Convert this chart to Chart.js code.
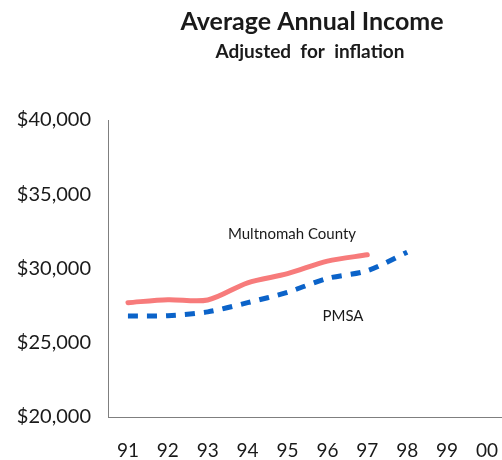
<!DOCTYPE html>
<html>
<head>
<meta charset="utf-8">
<script src="https://cdn.jsdelivr.net/npm/chart.js@4.4.1/dist/chart.umd.min.js"></script>
<style>
  html, body { margin: 0; padding: 0; background: #fff; overflow: hidden; }
  #wrap { width: 520px; height: 460px; }
</style>
</head>
<body>
<div id="wrap"><canvas id="incomeChart" width="520" height="460"></canvas></div>
<script>
const years = ['91', '92', '93', '94', '95', '96', '97', '98', '99', '00'];
const multnomah = [27700, 27900, 27880, 29040, 29650, 30500, 30920, null, null, null];
const pmsa = [26800, 26820, 27080, 27700, 28400, 29330, 29850, 31100, null, null];
const yTicks = [20000, 25000, 30000, 35000, 40000];

const FONT = 'Lato, "Open Sans", sans-serif';
const TEXT = '#1a1a1a';

// titles and series labels drawn over the chart
const textPlugin = {
  id: 'textPlugin',
  afterDraw(chart) {
    const { ctx } = chart;
    ctx.save();
    ctx.fillStyle = TEXT;
    ctx.textAlign = 'center';
    ctx.textBaseline = 'middle';
    ctx.font = 'bold 25px ' + FONT;
    ctx.fillText('Average Annual Income', 312, 22);
    ctx.font = 'bold 19px ' + FONT;
    ctx.fillText('Adjusted  for  inflation', 310, 52);
    ctx.font = '15px ' + FONT;
    ctx.fillText('Multnomah County', 292, 234);
    ctx.fillText('PMSA', 343, 316);
    ctx.restore();
  }
};

new Chart(document.getElementById('incomeChart'), {
  type: 'line',
  data: {
    labels: years,
    datasets: [
      {
        label: 'Multnomah County',
        data: multnomah,
        borderColor: '#f77b7b',
        borderWidth: 5,
        borderCapStyle: 'round',
        tension: 0.3,
        pointRadius: 0,
        fill: false
      },
      {
        label: 'PMSA',
        data: pmsa,
        borderColor: '#0b63c9',
        borderWidth: 5,
        borderDash: [10, 9],
        borderCapStyle: 'butt',
        tension: 0.3,
        pointRadius: 0,
        fill: false
      }
    ]
  },
  options: {
    responsive: false,
    animation: false,
    layout: { padding: { top: 120, right: 0, bottom: 0, left: 0 } },
    plugins: {
      legend: { display: false },
      title: { display: false },
      tooltip: { enabled: false }
    },
    scales: {
      x: {
        offset: true,
        afterFit: s => { s.height = 43; },
        grid: { display: false, drawTicks: false },
        border: { display: true, color: '#7f7f7f', width: 1 },
        ticks: { color: TEXT, font: { family: FONT, size: 19 }, padding: 22, maxRotation: 0 }
      },
      y: {
        min: 20000,
        max: 40000,
        afterFit: s => { s.width = 108; },
        afterBuildTicks: s => { s.ticks = yTicks.map(v => ({ value: v })); },
        grid: { display: false, drawTicks: false },
        border: { display: true, color: '#7f7f7f', width: 1 },
        ticks: {
          color: TEXT,
          font: { family: FONT, size: 20 },
          padding: 17,
          callback: v => '$' + v.toLocaleString('en-US')
        }
      }
    }
  },
  plugins: [textPlugin]
});
</script>
</body>
</html>
